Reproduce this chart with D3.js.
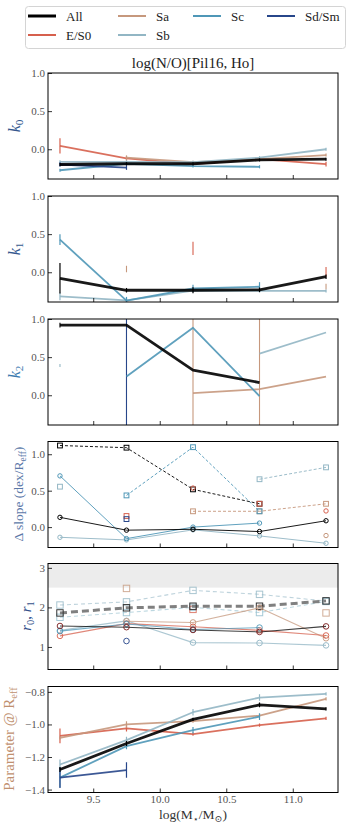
<!DOCTYPE html>
<html lang="en">
<head>
<meta charset="utf-8" />
<script src="https://d3js.org/d3.v7.min.js"></script>
<style>
  body { margin: 0; background: #fff; }
  text { font-family: "Liberation Serif", "DejaVu Serif", serif; }
  .axis path { display: none; }
  .axis line { stroke: #000; stroke-width: 0.8; }
  .axis text { font-size: 11px; fill: #555; }
</style>
</head>
<body>
<svg width="352" height="828"></svg>
<script>
// ---- data ----
const masses = [9.25, 9.75, 10.25, 10.75, 11.25];
const groups = ["All", "E/S0", "Sa", "Sb", "Sc", "Sd/Sm"];
const groupColors = ["#000000", "#d6604d", "#c6987d", "#92b6c4", "#4f97b7", "#27468a"];
const xTicks = [9.5, 10.0, 10.5, 11.0];

// k0
const k0Values = {
  "E/S0": [0.044, -0.12, -0.195, -0.13, -0.195],
  Sa: [null, -0.11, -0.17, -0.13, -0.076],
  Sb: [-0.165, -0.165, -0.17, -0.11, 0.0],
  Sc: [-0.275, -0.19, -0.22, -0.23, null],
  "Sd/Sm": [-0.2, -0.24, null, null, null],
  All: [-0.2, -0.19, -0.19, -0.14, -0.13],
};
const k0Errors = {
  "E/S0": [0.1, 0.03, 0.02, 0.02, 0.03],
  Sa: [0, 0.03, 0.02, 0.02, 0.02],
  Sb: [0.02, 0.02, 0.02, 0.02, 0.02],
  Sc: [0.02, 0.02, 0.02, 0.02, 0],
  "Sd/Sm": [0.03, 0.03, 0, 0, 0],
  All: [0.02, 0.02, 0.02, 0.02, 0.02],
};

// k1
const k1Values = {
  Sb: [-0.316, -0.37, -0.24, -0.245, -0.245],
  Sc: [0.427, -0.373, -0.213, -0.19, null],
  All: [-0.08, -0.236, -0.236, -0.23, -0.058],
};
const k1Errors = {
  Sb: [0.05, 0.03, 0.02, 0.02, 0.02],
  Sc: [0.07, 0.05, 0.05, 0.06, 0],
  All: [0.2, 0.03, 0.04, 0.03, 0.03],
};
// error bars drawn without a visible point
const k1Bars = [
  { group: "Sa", mass: 9.75, lo: 0.0, hi: 0.085 },
  { group: "E/S0", mass: 10.25, lo: 0.227, hi: 0.4 },
  { group: "E/S0", mass: 11.25, lo: -0.06, hi: 0.07 },
  { group: "Sa", mass: 11.25, lo: -0.227, hi: -0.15 },
];

// k2
const k2Values = {
  Sa: [null, null, 0.027, 0.08, 0.243],
  Sb: [null, null, null, 0.545, 0.823],
  Sc: [null, 0.247, 0.885, -0.01, null],
  All: [0.92, 0.92, 0.33, 0.167, null],
};
const k2Bars = [
  { group: "Sb", mass: 9.25, lo: 0.37, hi: 0.41 },
  { group: "All", mass: 9.25, lo: 0.89, hi: 0.95 },
  { group: "Sd/Sm", mass: 9.75, lo: -3, hi: 3 },
  { group: "Sa", mass: 10.25, lo: -3, hi: 3 },
  { group: "Sa", mass: 10.75, lo: -3, hi: 3 },
];

// delta slope: squares (dashed) and circles (solid)
const slopeSquares = {
  Sa: [null, null, 0.217, 0.217, 0.32],
  Sb: [0.555, null, null, 0.657, 0.82],
  Sc: [null, 0.435, 1.097, 0.217, null],
  All: [1.12, 1.09, 0.518, 0.32, null],
  "E/S0": [null, 0.152, null, 0.32, null],
  "Sd/Sm": [null, 0.11, null, null, null],
};
const slopeCircles = {
  Sa: [null, null, null, null, -0.116],
  Sb: [-0.14, -0.176, -0.038, -0.121, -0.222],
  Sc: [0.703, -0.158, 0.0, 0.055, null],
  All: [0.134, -0.042, -0.03, -0.061, 0.087],
  "E/S0": [null, null, 0.536, null, 0.222],
};

// r0, r1
const rSquares = {
  Sb: [2.06, 2.14, 2.43, 2.33, 2.16],
  Sc: [1.75, 1.87, 2.0, 1.87, 2.15],
  Sa: [null, 2.48, null, null, 1.86],
  "E/S0": [null, null, 1.95, null, null],
  All: [1.86, 1.99, 2.03, 2.03, 2.165],
};
const rCircles = {
  Sb: [1.42, 1.66, 1.11, 1.1, 1.04],
  Sa: [null, 1.65, 1.62, 1.99, 1.22],
  "E/S0": [1.28, 1.59, 1.51, 1.42, 1.29],
  Sc: [1.4, 1.58, 1.44, 1.49, null],
  All: [1.53, 1.5, 1.43, 1.38, 1.52],
  "Sd/Sm": [null, 1.15, null, null, null],
};
const rBand = [2.5, 3.2];

// parameter at Reff
const reffValues = {
  "E/S0": [-1.07, -1.024, -1.059, -1.004, -0.963],
  Sa: [-1.082, -1.0, -0.98, -0.946, -0.843],
  Sb: [-1.246, -1.096, -0.925, -0.835, -0.812],
  Sc: [-1.327, -1.133, -1.035, -0.952, null],
  "Sd/Sm": [-1.327, -1.28, null, null, null],
  All: [-1.277, -1.117, -0.969, -0.88, -0.905],
};
const reffErrors = {
  "E/S0": [0.045, 0.02, 0.01, 0.01, 0.01],
  Sa: [0.01, 0.02, 0.01, 0.01, 0.01],
  Sb: [0.03, 0.02, 0.02, 0.02, 0.01],
  Sc: [0.06, 0.02, 0.02, 0.02, 0],
  "Sd/Sm": [0.064, 0.048, 0, 0, 0],
  All: [0.015, 0.015, 0.01, 0.015, 0.01],
};

// ---- drawing ----
const svg = d3.select("svg");
const color = d3.scaleOrdinal().domain(groups).range(groupColors);
const x = d3.scaleLinear().domain([9.16, 11.34]).range([48, 338]);
const panelH = 106;

function makePanel(i, top, domain, ticks, fmt, showX) {
  const y = d3.scaleLinear().domain(domain).range([top + panelH, top]);
  const g = svg.append("g");
  g.append("clipPath")
    .attr("id", "clip" + i)
    .append("rect")
    .attr("x", 48)
    .attr("y", top)
    .attr("width", 290)
    .attr("height", panelH);
  const plot = g.append("g").attr("clip-path", "url(#clip" + i + ")");
  g.append("g")
    .attr("class", "axis")
    .attr("transform", "translate(48,0)")
    .call(
      d3.axisLeft(y).tickValues(ticks).tickFormat(d3.format(fmt))
        .tickSizeInner(-4).tickSizeOuter(0).tickPadding(3)
    );
  g.append("g")
    .attr("class", "axis")
    .attr("transform", "translate(0," + (top + panelH) + ")")
    .call(
      d3.axisBottom(x).tickValues(xTicks).tickFormat(showX ? d3.format(".1f") : "")
        .tickSizeInner(-4).tickSizeOuter(0).tickPadding(3)
    );
  g.append("rect")
    .attr("x", 48)
    .attr("y", top)
    .attr("width", 290)
    .attr("height", panelH)
    .attr("fill", "none")
    .attr("stroke", "#000")
    .attr("stroke-width", 1);
  return { y, plot, g };
}

function drawLine(plot, y, vals, col, w, dash, op) {
  const pts = masses.map((m, i) => [m, vals[i]]);
  plot.append("path")
    .datum(pts)
    .attr("fill", "none")
    .attr("stroke", col)
    .attr("stroke-width", w)
    .attr("stroke-dasharray", dash || null)
    .attr("stroke-opacity", op)
    .attr("stroke-linejoin", "round")
    .attr("d", d3.line().defined((d) => d[1] != null).x((d) => x(d[0])).y((d) => y(d[1])));
}

function drawErrors(plot, y, vals, errs, col, w) {
  const pts = masses
    .map((m, i) => ({ m, v: vals[i], e: errs[i] }))
    .filter((d) => d.v != null && d.e > 0);
  plot.selectAll(null)
    .data(pts)
    .join("line")
    .attr("x1", (d) => x(d.m))
    .attr("x2", (d) => x(d.m))
    .attr("y1", (d) => y(d.v - d.e))
    .attr("y2", (d) => y(d.v + d.e))
    .attr("stroke", col)
    .attr("stroke-width", w);
}

function drawBars(plot, y, bars, w) {
  plot.selectAll(null)
    .data(bars)
    .join("line")
    .attr("x1", (d) => x(d.mass))
    .attr("x2", (d) => x(d.mass))
    .attr("y1", (d) => y(d.lo))
    .attr("y2", (d) => y(d.hi))
    .attr("stroke", (d) => color(d.group))
    .attr("stroke-width", w);
}

function drawMarkers(plot, y, vals, col, shape, size, op) {
  const pts = masses.map((m, i) => [m, vals[i]]).filter((d) => d[1] != null);
  if (shape === "circle") {
    plot.selectAll(null).data(pts).join("circle")
      .attr("cx", (d) => x(d[0])).attr("cy", (d) => y(d[1])).attr("r", size)
      .attr("fill", "none").attr("stroke", col).attr("stroke-width", 1).attr("stroke-opacity", op);
  } else {
    plot.selectAll(null).data(pts).join("rect")
      .attr("x", (d) => x(d[0]) - size).attr("y", (d) => y(d[1]) - size)
      .attr("width", size * 2).attr("height", size * 2)
      .attr("fill", "none").attr("stroke", col).attr("stroke-width", 1).attr("stroke-opacity", op);
  }
}

function yLabel(cx, cy, parts, col, size) {
  const t = svg.append("text")
    .attr("transform", "translate(" + cx + "," + cy + ") rotate(-90)")
    .attr("text-anchor", "middle")
    .attr("fill", col)
    .style("font-size", size + "px");
  addParts(t, parts, size);
}

function addParts(t, parts, size) {
  let shifted = 0;
  parts.forEach((p) => {
    const s = t.append("tspan").text(p.t);
    if (p.i) s.style("font-style", "italic");
    if (p.sub) {
      s.style("font-size", size * 0.7 + "px").attr("dy", 3 - shifted);
      shifted = 3;
    } else if (shifted) {
      s.attr("dy", -shifted);
      shifted = 0;
    }
  });
}

// panel 1: k0
const p1 = makePanel(1, 73, [-0.39, 1.0], [0, 0.5, 1.0], ".1f", false);
Object.keys(k0Values).forEach((k) => {
  const w = k === "All" ? 2.8 : 1.8;
  drawLine(p1.plot, p1.y, k0Values[k], color(k), w, null, 0.9);
  drawErrors(p1.plot, p1.y, k0Values[k], k0Errors[k], color(k), 1.2);
});

// panel 2: k1
const p2 = makePanel(2, 196, [-0.39, 1.0], [0, 0.5, 1.0], ".1f", false);
drawBars(p2.plot, p2.y, k1Bars, 1.1);
Object.keys(k1Values).forEach((k) => {
  const w = k === "All" ? 2.8 : 1.8;
  drawLine(p2.plot, p2.y, k1Values[k], color(k), w, null, 0.9);
  drawErrors(p2.plot, p2.y, k1Values[k], k1Errors[k], color(k), 1.2);
});

// panel 3: k2
const p3 = makePanel(3, 319, [-0.39, 1.0], [0, 0.5, 1.0], ".1f", false);
drawBars(p3.plot, p3.y, k2Bars, 1.1);
Object.keys(k2Values).forEach((k) => {
  const w = k === "All" ? 2.8 : 1.8;
  drawLine(p3.plot, p3.y, k2Values[k], color(k), w, null, 0.9);
});

// panel 4: delta slope
const p4 = makePanel(4, 441.5, [-0.28, 1.175], [0, 0.5, 1.0], ".1f", false);
Object.keys(slopeSquares).forEach((k) => {
  drawLine(p4.plot, p4.y, slopeSquares[k], color(k), 1, "3,2", 0.9);
  drawMarkers(p4.plot, p4.y, slopeSquares[k], color(k), "square", 2.4, 1);
});
Object.keys(slopeCircles).forEach((k) => {
  drawLine(p4.plot, p4.y, slopeCircles[k], color(k), 1, null, 0.9);
  drawMarkers(p4.plot, p4.y, slopeCircles[k], color(k), "circle", 2.2, 1);
});

// panel 5: r0, r1
const p5 = makePanel(5, 563.5, [0.43, 3.11], [1, 2, 3], "d", false);
p5.plot.append("rect")
  .attr("x", 48)
  .attr("width", 290)
  .attr("y", p5.y(rBand[1]))
  .attr("height", p5.y(rBand[0]) - p5.y(rBand[1]))
  .attr("fill", "#ececec");
Object.keys(rSquares).forEach((k) => {
  if (k === "All") {
    drawLine(p5.plot, p5.y, rSquares[k], "#808080", 3, "7,4", 1);
    drawMarkers(p5.plot, p5.y, rSquares[k], "#333", "square", 3.2, 1);
  } else {
    const op = k === "Sb" || k === "Sc" ? 0.6 : 0.7;
    const col = k === "Sc" ? "#8fbccc" : color(k);
    drawLine(p5.plot, p5.y, rSquares[k], col, 1.1, "4,3", op);
    drawMarkers(p5.plot, p5.y, rSquares[k], col, "square", 3.2, 0.8);
  }
});
Object.keys(rCircles).forEach((k) => {
  drawLine(p5.plot, p5.y, rCircles[k], color(k), 1.1, null, 0.75);
  drawMarkers(p5.plot, p5.y, rCircles[k], k === "All" ? "#7a1c1c" : color(k), "circle", 2.8, 0.9);
});

// panel 6: parameter at Reff
const p6 = makePanel(6, 686.5, [-1.418, -0.767], [-1.4, -1.2, -1.0, -0.8], ".1f", true);
p6.g.selectAll(".axis text").attr("fill", "#4f8fb5");
Object.keys(reffValues).forEach((k) => {
  const w = k === "All" ? 2.8 : 1.8;
  drawLine(p6.plot, p6.y, reffValues[k], color(k), w, null, 0.9);
  drawErrors(p6.plot, p6.y, reffValues[k], reffErrors[k], color(k), 1.2);
});

// axis labels
yLabel(20, 126, [{ t: "k", i: true }, { t: "0", sub: true }], "#35598f", 16);
yLabel(20, 249, [{ t: "k", i: true }, { t: "1", sub: true }], "#35598f", 16);
yLabel(20, 372, [{ t: "k", i: true }, { t: "2", sub: true }], "#3c7bb0", 16);
yLabel(23, 494, [{ t: "Δ slope (dex/R" }, { t: "eff", sub: true }, { t: ")" }], "#5b78a8", 13.5);
yLabel(31, 616, [{ t: "r", i: true }, { t: "0", sub: true }, { t: ", " }, { t: "r", i: true }, { t: "1", sub: true }], "#33508a", 15);
yLabel(14, 739, [{ t: "Parameter @ R" }, { t: "eff", sub: true }], "#c0906f", 15);

const xl = svg.append("text")
  .attr("x", 193)
  .attr("y", 819)
  .attr("text-anchor", "middle")
  .attr("fill", "#333")
  .style("font-size", "13.5px");
addParts(xl, [{ t: "log(M" }, { t: "⋆", sub: true }, { t: "/M" }, { t: "⊙", sub: true }, { t: ")" }], 13.5);

svg.append("text")
  .attr("x", 193)
  .attr("y", 68)
  .attr("text-anchor", "middle")
  .attr("fill", "#222")
  .style("font-size", "15px")
  .text("log(N/O)[Pil16, Ho]");

// legend
const legendItems = [
  { g: "All", col: 0, row: 0 },
  { g: "E/S0", col: 0, row: 1 },
  { g: "Sa", col: 1, row: 0 },
  { g: "Sb", col: 1, row: 1 },
  { g: "Sc", col: 2, row: 0 },
  { g: "Sd/Sm", col: 3, row: 0 },
];
const legendX = [28, 118, 193, 267];
const legendY = [16, 35];
svg.append("rect")
  .attr("x", 25.5).attr("y", 6.5).attr("width", 320).attr("height", 42)
  .attr("rx", 3).attr("fill", "#fff").attr("stroke", "#d4d4d4");
const leg = svg.append("g").selectAll("g").data(legendItems).join("g")
  .attr("transform", (d) => "translate(" + legendX[d.col] + "," + legendY[d.row] + ")");
leg.append("line")
  .attr("x1", 0).attr("x2", 28)
  .attr("stroke", (d) => color(d.g))
  .attr("stroke-width", (d) => (d.g === "All" ? 3 : 2));
leg.append("text")
  .attr("x", 38).attr("dy", "0.35em")
  .style("font-size", "13px")
  .attr("fill", "#222")
  .text((d) => d.g);
</script>
</body>
</html>
